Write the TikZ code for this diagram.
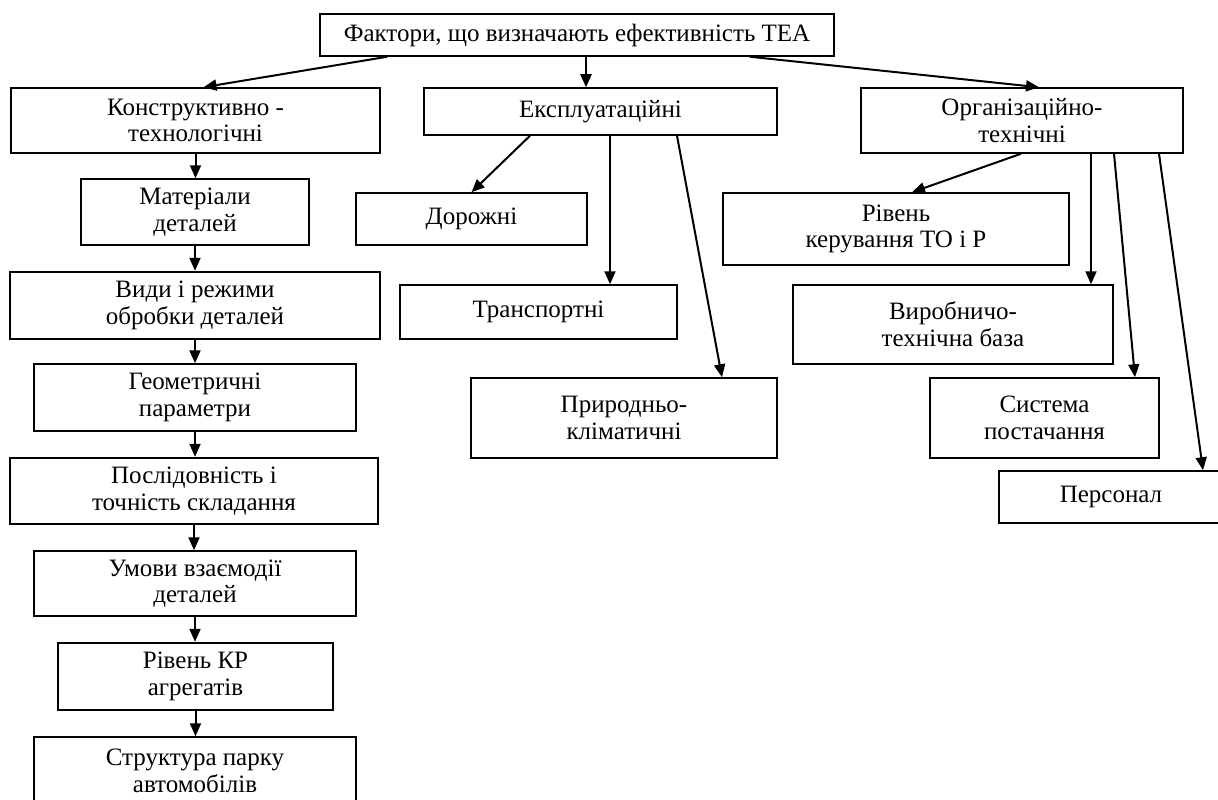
\documentclass[tikz,border=0pt]{standalone}
\usepackage{fontspec}
\setmainfont{Liberation Serif}
\usetikzlibrary{arrows.meta}

\begin{document}
\begin{tikzpicture}[%
      x=1pt, y=-1pt,
      every node/.style={draw, line width=1.5pt, align=center, inner sep=0pt,
                         font={\fontsize{25}{26.7}\selectfont}},
      bold box/.style={line width=2.4pt},
      link/.style={line width=2pt, -{Triangle[length=13pt,width=11pt]}},
      down/.style={link}
    ]
    \useasboundingbox (0,0) rectangle (1218,800);
    \node [minimum width=514pt, minimum height=42pt] (factors) at (577,35)
     {Фактори, що визначають ефективність ТЕА};
    % first level
    \node [minimum width=369pt, minimum height=65pt] (constr) at (195.5,120.5)
     {Конструктивно -\\технологічні};
    \node [minimum width=353pt, minimum height=47pt] (exploit) at (600.5,111.5)
     {Експлуатаційні};
    \node [minimum width=322pt, minimum height=65pt] (organiz) at (1022,120.5)
     {Організаційно-\\технічні};
    % left column
    \node [minimum width=228pt, minimum height=66pt] (materials) at (195,212)
     {Матеріали\\деталей};
    \node [bold box, minimum width=370pt, minimum height=67pt] (machining) at (195,305.5)
     {Види і режими\\обробки деталей};
    \node [minimum width=322pt, minimum height=67pt] (geometry) at (195,397.5)
     {Геометричні\\параметри};
    \node [bold box, minimum width=368pt, minimum height=66pt] (assembly) at (194,491)
     {Послідовність і\\точність складання};
    \node [minimum width=322pt, minimum height=65pt] (interact) at (195,583.5)
     {Умови взаємодії\\деталей};
    \node [bold box, minimum width=275pt, minimum height=67pt] (overhaul) at (195.5,676.5)
     {Рівень КР\\агрегатів};
    \node [minimum width=322pt, minimum height=68pt] (fleet) at (195,771)
     {Структура парку\\автомобілів};
    % middle column
    \node [minimum width=231pt, minimum height=52pt] (roads) at (471.5,219)
     {Дорожні};
    \node [minimum width=277pt, minimum height=54pt] (transport) at (538.5,312)
     {Транспортні};
    \node [minimum width=306pt, minimum height=80pt] (climate) at (624,418)
     {Природньо-\\кліматичні};
    % right column
    \node [minimum width=346pt, minimum height=72pt] (control) at (896,229)
     {Рівень\\керування ТО і Р};
    \node [minimum width=320pt, minimum height=79pt] (base) at (953,324.5)
     {Виробничо-\\технічна база};
    \node [minimum width=229pt, minimum height=80pt] (supply) at (1044.5,418)
     {Система\\постачання};
    \node [minimum width=224pt, minimum height=52pt] (staff) at (1111,497)
     {Персонал};

    \draw [link] ([xshift=-190pt]factors.south) -- ([xshift=8pt]constr.north);
    \draw [down] ([xshift=9pt]factors.south) -- ([xshift=9pt]factors.south |- exploit.north);
    \draw [link] ([xshift=173pt]factors.south) -- ([xshift=17pt]organiz.north);

    \foreach \a/\b in {constr/materials, materials/machining, machining/geometry,
                       geometry/assembly, assembly/interact, interact/overhaul,
                       overhaul/fleet}
      \draw [down] (\a.south) -- (\a.south |- \b.north);

    \draw [link] ([xshift=-70.5pt]exploit.south) -- (roads.north);
    \draw [down] ([xshift=9.5pt]exploit.south) -- ([xshift=9.5pt]exploit.south |- transport.north);
    \draw [link] ([xshift=76.5pt]exploit.south) -- ([xshift=98pt]climate.north);

    \draw [link] ([xshift=-1pt]organiz.south) -- ([xshift=16pt]control.north);
    \draw [down] ([xshift=69pt]organiz.south) -- ([xshift=69pt]organiz.south |- base.north);
    \draw [link] ([xshift=92pt]organiz.south) -- ([xshift=90.5pt]supply.north);
    \draw [link] ([xshift=137pt]organiz.south) -- ([xshift=92pt]staff.north);
\end{tikzpicture}
\end{document}
